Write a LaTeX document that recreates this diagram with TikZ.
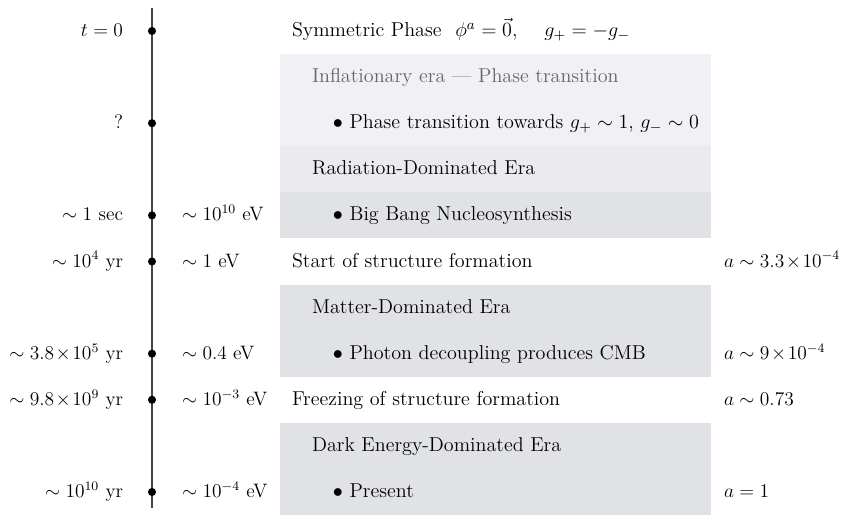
\documentclass[tikz,border=0pt]{standalone}
\usepackage{fix-cm}
\definecolor{inflcol}{RGB}{240,240,245}
\definecolor{radcol}{RGB}{235,235,239}
\definecolor{itemcol}{RGB}{225,226,230}
\definecolor{axiscol}{RGB}{70,70,70}
\newcommand{\txm}{\mkern-2.5mu\times\mkern-2.5mu}
\begin{document}
\begin{tikzpicture}[x=1cm,y=1cm,
  every node/.style={font=\fontsize{12}{14}\selectfont, inner sep=0pt, outer sep=0pt},
  dot/.style={circle, fill=black, minimum size=5pt, inner sep=0pt},
  timelab/.style={anchor=base east},
  enlab/.style={anchor=base west},
  evlab/.style={anchor=base west, font=\fontsize{12.4}{15}\selectfont},
  sublab/.style={anchor=base west, font=\fontsize{12.4}{15}\selectfont},
  scalelab/.style={anchor=base west},
  axisline/.style={draw=axiscol, line width=0.7pt}]
\useasboundingbox (-3.297,0.672) rectangle (14.967,-10.499);
% shaded era boxes
\fill[inflcol] (2.777,-0.5) rectangle (12.126,-2.5);
\fill[radcol] (2.777,-2.5) rectangle (12.126,-3.5);
\fill[itemcol] (2.777,-3.5) rectangle (12.126,-4.5);
\fill[itemcol] (2.777,-5.5) rectangle (12.126,-7.5);
\fill[itemcol] (2.777,-8.5) rectangle (12.126,-10.5);
% axis
\coordinate (atop) at (0,0.499);
\coordinate (abot) at (0,-10.347);
\draw[axisline] (atop) -- (abot);
\foreach \r in {0,2,4,5,7,8,10} \node[dot] (d\r) at (0,-\r) {};
% time labels
\def\bl{0.12}
\node[timelab] (t0) at (-0.629,0-\bl) {$t=0$};
\node[timelab] (t2) at (-0.629,-2-\bl) {?};
\node[timelab] (t4) at (-0.629,-4-\bl) {$\sim 1$ sec};
\node[timelab] (t5) at (-0.629,-5-\bl) {$\sim 10^4$ yr};
\node[timelab] (t7) at (-0.629,-7-\bl) {$\sim 3.8\txm 10^5$ yr};
\node[timelab] (t8) at (-0.629,-8-\bl) {$\sim 9.8\txm 10^9$ yr};
\node[timelab] (t10) at (-0.629,-10-\bl) {$\sim 10^{10}$ yr};
% energy labels
\node[enlab] (e4) at (0.651,-4-\bl) {$\sim 10^{10}$ eV};
\node[enlab] (e5) at (0.651,-5-\bl) {$\sim 1$ eV};
\node[enlab] (e7) at (0.651,-7-\bl) {$\sim 0.4$ eV};
\node[enlab] (e8) at (0.651,-8-\bl) {$\sim 10^{-3}$ eV};
\node[enlab] (e10) at (0.651,-10-\bl) {$\sim 10^{-4}$ eV};
% events
\node[evlab] (v0) at (3.037,0-\bl) {Symmetric Phase\hspace{8.5pt}$\phi^a=\vec{0},\quad\, g_+=-g_-$};
\node[sublab, text=black!60] (v1) at (3.471,-1-\bl) {Inflationary era --- Phase transition};
\node[evlab] (v2) at (3.926,-2-\bl) {$\bullet$ Phase transition towards $g_+\sim 1$, $g_-\sim 0$};
\node[sublab] (v3) at (3.471,-3-\bl) {Radiation-Dominated Era};
\node[evlab] (v4) at (3.926,-4-\bl) {$\bullet$ Big Bang Nucleosynthesis};
\node[evlab] (v5) at (3.037,-5-\bl) {Start of structure formation};
\node[sublab] (v6) at (3.471,-6-\bl) {Matter-Dominated Era};
\node[evlab] (v7) at (3.926,-7-\bl) {$\bullet$ Photon decoupling produces CMB};
\node[evlab] (v8) at (3.037,-8-\bl) {Freezing of structure formation};
\node[sublab] (v9) at (3.471,-9-\bl) {Dark Energy-Dominated Era};
\node[evlab] (v10) at (3.926,-10-\bl) {$\bullet$ Present};
% scale factor
\node[scalelab] (a5) at (12.408,-5-\bl) {$a\sim 3.3\txm 10^{-4}$};
\node[scalelab] (a7) at (12.408,-7-\bl) {$a\sim 9\txm 10^{-4}$};
\node[scalelab] (a8) at (12.408,-8-\bl) {$a\sim 0.73$};
\node[scalelab] (a10) at (12.408,-10-\bl) {$a=1$};
\end{tikzpicture}
\end{document}
